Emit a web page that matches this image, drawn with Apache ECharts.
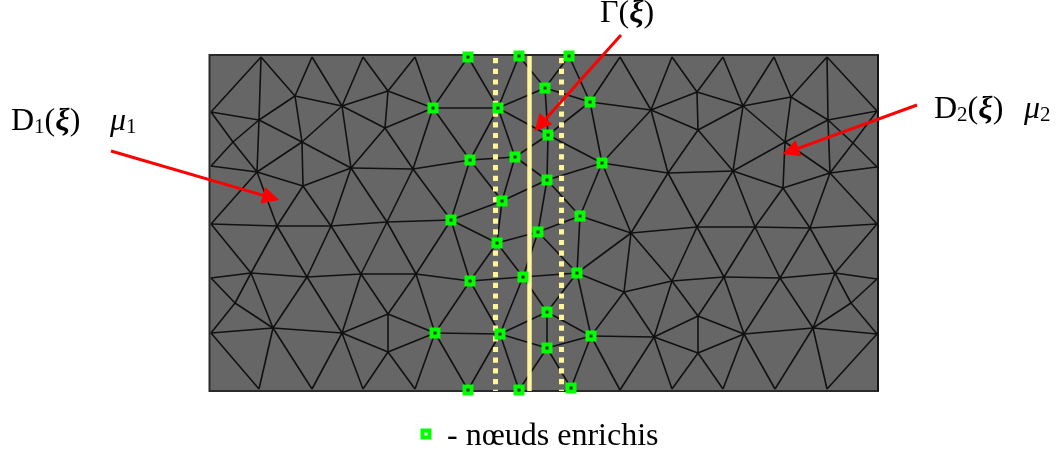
<!DOCTYPE html>
<html><head><meta charset="utf-8">
<style>html,body{margin:0;padding:0;background:#fff}#c{width:1063px;height:456px}</style>
<script src="https://cdn.jsdelivr.net/npm/echarts@6/dist/echarts.min.js"></script>
</head><body><div id="c"></div>
<script>
const domainBox = [[209.5,55],[878,391]];
const domainRightEdge = [[878,55],[878,391]];
const enrichedNodes = [[468,57],[519,56],[569,56],[545,88],[433,108],[498,108],[590,102],[548,135],[515,157],[470,160],[602,163],[547,180],[502,201],[580,216],[451,220],[538,232],[497,243],[577,273],[523,277],[470,281],[547,312],[435,333],[500,334],[591,336],[547,348],[468,390],[519,390],[571,388]];
const legendNode = [[426,434]];
const interfaceLine = [[529,56],[529,391]];
const dottedLines = [[[495,58],[495,391]],[[561,58],[561,391]]];
const arrowShafts = [[[111,151],[271,197.6]],[[917,105],[790.5,151.2]],[[621,35],[540.3,125]]];
const textLabels = [
  {at:[11,122], text:'{n|D}{s|1}{n|(}{g|ξ}{n|)}'},
  {at:[110,122], text:'{m|μ}{s|1}'},
  {at:[934,110], text:'{n|D}{s|2}{n|(}{g|ξ}{n|)}'},
  {at:[1024,110], text:'{m|μ}{s|2}'},
  {at:[600,14], text:'{n|Γ(}{g|ξ}{n|)}'},
  {at:[447,437], text:'{n|- nœuds enrichis}'}
];
const meshPaths = [
 [[211,112],[261,57],[259,120],[211,112],[233,142],[259,120],[302,142],[295,96],[261,57]],
 [[295,96],[259,120]],[[295,96],[312,57],[342,106],[295,96]],[[342,106],[363,57],[388,91],[342,106]],
 [[388,91],[415,57],[433,108],[388,91],[385,128],[342,106],[302,142]],[[385,128],[433,108]],
 [[342,106],[351,168],[302,142]],[[351,168],[385,128],[413,169],[351,168]],[[433,108],[413,169]],
 [[259,120],[257,172],[302,142],[303,186],[257,172]],[[233,142],[211,166],[257,172],[233,142]],
 [[303,186],[351,168]],[[257,172],[211,224]],[[257,172],[277,226],[303,186],[331,226],[351,168],[387,222],[413,169],[451,220]],
 [[413,169],[470,160]],
 [[211,224],[277,226],[331,226],[387,222],[451,220]],
 [[211,224],[251,273],[277,226],[307,277],[331,226],[361,274],[387,222],[416,274],[451,220]],
 [[211,278],[251,273],[307,277],[361,274],[416,274],[470,281]],
 [[251,273],[273,328],[307,277],[342,333],[361,274],[388,314],[416,274],[435,333]],
 [[211,278],[235,303],[273,328]],[[251,273],[235,303],[211,333]],[[211,333],[273,328],[342,333]],
 [[342,333],[388,314],[435,333],[388,352],[342,333]],[[388,314],[388,352]],
 [[211,333],[259,389],[273,328],[312,389],[342,333],[363,389],[388,352],[415,389],[435,333]],
 [[433,108],[468,57],[498,108],[519,56],[545,88],[569,56],[590,102],[545,88],[498,108],[433,108],[470,160],[498,108],[515,157],[470,160]],
 [[498,108],[548,135],[515,157],[502,201],[470,160],[451,220],[502,201],[547,180],[515,157]],
 [[545,88],[548,135],[590,102],[602,163],[548,135],[547,180],[602,163],[580,216],[547,180],[538,232],[580,216]],
 [[502,201],[497,243],[451,220],[470,281],[497,243],[538,232],[523,277],[497,243]],[[538,232],[577,273]],
 [[470,281],[523,277],[577,273],[580,216],[631,233],[577,273],[624,292],[591,336],[577,273],[547,312],[523,277],[500,334],[470,281],[435,333],[500,334],[547,312],[591,336],[547,348],[500,334]],
 [[547,312],[547,348],[519,390],[500,334],[468,390],[435,333]],[[547,348],[571,388],[591,336],[620,390],[654,337],[591,336]],
 [[602,163],[631,233],[624,292],[654,337]],[[624,292],[672,281],[631,233]],
 [[590,102],[620,57],[651,110],[590,102]],[[602,163],[651,110],[672,57],[697,92],[651,110],[698,130],[697,92],[723,57],[743,106],[697,92]],
 [[743,106],[774,57],[791,97],[743,106],[698,130],[733,171],[743,106],[785,142],[733,171],[783,188],[785,142],[791,97],[827,57],[828,120],[791,97]],
 [[827,57],[877,111],[828,120],[785,142],[830,173],[783,188]],[[828,120],[853,143],[830,173],[828,120]],
 [[877,111],[853,143],[877,167],[830,173]],
 [[651,110],[668,173],[698,130]],[[602,163],[668,173],[733,171],[697,227],[668,173],[631,233],[697,227],[755,227],[733,171]],
 [[755,227],[783,188],[810,228],[830,173],[877,224],[810,228],[755,227]],
 [[697,227],[672,281],[724,277],[697,227]],[[724,277],[755,227],[780,278],[810,228],[835,273],[877,224]],
 [[724,277],[780,278],[835,273],[877,279],[851,303],[835,273],[813,328],[851,303],[877,334],[813,328],[780,278],[744,334],[724,277],[698,316],[672,281],[654,337]],
 [[698,316],[744,334],[813,328]],[[698,316],[654,337],[698,353],[744,334]],[[698,316],[698,353]],
 [[654,337],[672,389],[698,353],[723,389],[744,334],[775,389],[813,328],[827,389],[877,334]]
];
const edgeData = [];
meshPaths.forEach(p => { for (let i=0;i<p.length-1;i++) edgeData.push({coords:[p[i],p[i+1]]}); });

const chart = echarts.init(document.getElementById('c'), null, {renderer:'canvas'});
const serif = '"Liberation Serif", serif';
const yellow = '#fff59a';
chart.setOption({
  animation:false,
  grid:{left:0,right:0,top:0,bottom:0},
  xAxis:{type:'value',min:0,max:1063,show:false},
  yAxis:{type:'value',min:0,max:456,inverse:true,show:false},
  series:[
    {type:'scatter',data:[],silent:true,z:1,
     markArea:{silent:true,itemStyle:{color:'#666666',borderColor:'#2a2a2a',borderWidth:2,opacity:1},
       data:[[{coord:domainBox[0]},{coord:domainBox[1]}]]}},
    {type:'lines',coordinateSystem:'cartesian2d',z:2,silent:true,symbol:['none','none'],
     lineStyle:{color:'#111111',width:1.6,opacity:1,curveness:0},data:edgeData.concat([{coords:domainRightEdge}])},
    {type:'lines',coordinateSystem:'cartesian2d',z:3,silent:true,symbol:['none','none'],
     lineStyle:{color:yellow,width:5,opacity:1,type:[5.2,5.5]},
     data:dottedLines.map(c=>({coords:c}))},
    {type:'lines',coordinateSystem:'cartesian2d',z:3,silent:true,symbol:['none','none'],
     lineStyle:{color:yellow,width:4.5,opacity:1},data:[{coords:interfaceLine}]},
    {type:'scatter',z:4,silent:true,symbol:'rect',symbolSize:11,itemStyle:{color:'#00ff00',opacity:1},
     data:enrichedNodes.concat(legendNode)},
    {type:'scatter',z:5,silent:true,symbol:'rect',symbolSize:3,itemStyle:{color:'#003000',opacity:1},
     data:enrichedNodes},
    {type:'scatter',z:5,silent:true,symbol:'rect',symbolSize:3,itemStyle:{color:'#f4fff4',opacity:1},
     data:legendNode},
    {type:'lines',coordinateSystem:'cartesian2d',z:6,silent:true,symbol:['none','triangle'],symbolSize:[14,17],
     lineStyle:{color:'#ff0000',width:3,opacity:1},data:arrowShafts.map(c=>({coords:c}))},
    {type:'scatter',z:7,silent:true,symbolSize:0,itemStyle:{opacity:1},
     data:textLabels.map(t=>({value:t.at,itemStyle:{opacity:1},label:{show:true,position:'right',distance:0,opacity:1,formatter:t.text,
       rich:{
        n:{fontFamily:serif,fontSize:32,color:'#000'},
        g:{fontFamily:serif,fontSize:32,color:'#000',fontStyle:'italic',fontWeight:'bold'},
        m:{fontFamily:serif,fontSize:32,color:'#000',fontStyle:'italic'},
        s:{fontFamily:serif,fontSize:21,color:'#000',padding:[10,0,0,0]}
       }}}))}
  ]
});
</script></body></html>
